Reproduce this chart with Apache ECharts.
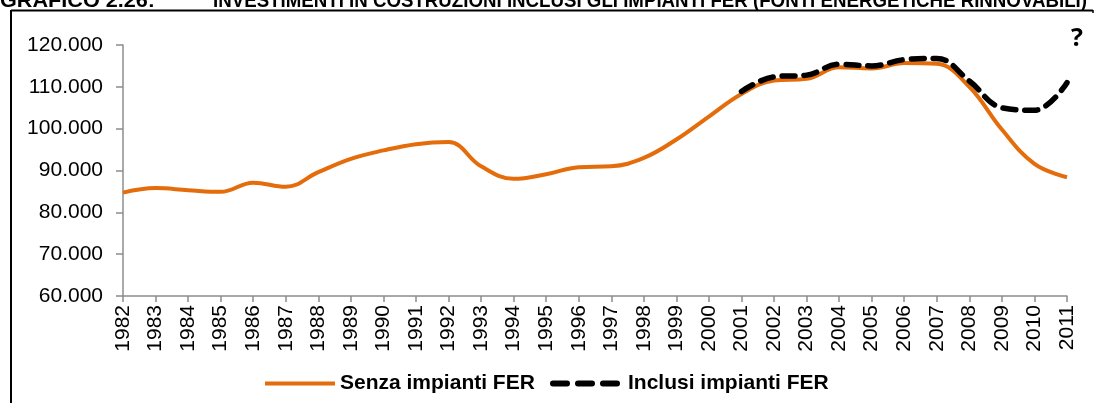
<!DOCTYPE html>
<html>
<head>
<meta charset="utf-8">
<title>Investimenti in costruzioni inclusi gli impianti FER</title>
<script src="https://cdn.jsdelivr.net/npm/echarts@6/dist/echarts.min.js"></script>
<style>
  html, body { margin: 0; padding: 0; background: #ffffff; }
  #chart { width: 1095px; height: 403px; }
</style>
</head>
<body>
<div id="chart"></div>
<script>
// Anni della serie
const years = ['1982','1983','1984','1985','1986','1987','1988','1989','1990','1991',
               '1992','1993','1994','1995','1996','1997','1998','1999','2000','2001',
               '2002','2003','2004','2005','2006','2007','2008','2009','2010','2011'];

// Investimenti in costruzioni senza impianti FER
const senzaFER = [84700, 85800, 85300, 84900, 87100, 86100, 89600, 92800, 94800, 96300,
                  96800, 91000, 88000, 89100, 90800, 91000, 93000, 97400, 102900, 108300,
                  111500, 111900, 114700, 114400, 115700, 115500, 110000, 99800, 91600, 88400];

// Investimenti in costruzioni inclusi gli impianti FER (dal 2001)
const inclusiFER = [null, null, null, null, null, null, null, null, null, null,
                    null, null, null, null, null, null, null, null, null, 108900,
                    112400, 112800, 115400, 115000, 116500, 116800, 111400, 105000, 104400, 111000];

// Asse dei valori
const yMin = 60000, yMax = 120000, yStep = 10000;

const seriesNames = ['Senza impianti FER', 'Inclusi impianti FER'];

// Intestazione del grafico
const titleLead = 'GRAFICO 2.26:';
const titleMain = 'INVESTIMENTI IN COSTRUZIONI INCLUSI GLI IMPIANTI FER (FONTI ENERGETICHE RINNOVABILI)';

const FONT = '"Liberation Sans", Arial, sans-serif';
const TITLE_SIZE = 20;

function fmtThousands(v) {
  return String(Math.round(v)).replace(/\B(?=(\d{3})+(?!\d))/g, '.');
}

// il titolo viene compresso in orizzontale per stare tra x0 e x1
const measureCtx = document.createElement('canvas').getContext('2d');
function titleText(text, x0, x1) {
  measureCtx.font = 'bold ' + TITLE_SIZE + 'px ' + FONT;
  const w = measureCtx.measureText(text).width;
  return {
    type: 'text',
    x: x0, y: 11,
    scaleX: (x1 - x0) / w,
    style: { text: text, fontSize: TITLE_SIZE, fontWeight: 'bold', fontFamily: FONT,
             fill: '#000', align: 'left', verticalAlign: 'bottom' },
    silent: true
  };
}

const chart = echarts.init(document.getElementById('chart'));

const legendText = { fontSize: 21, fontWeight: 'bold', fontFamily: FONT, color: '#000' };

chart.setOption({
  animation: false,
  backgroundColor: '#ffffff',
  grid: { left: 123, right: 28, top: 45, bottom: 107, containLabel: false },
  xAxis: {
    type: 'category',
    data: years,
    boundaryGap: false,
    axisLine: { lineStyle: { color: '#8c8c8c', width: 1.5 } },
    axisTick: { length: 6, interval: 0, lineStyle: { color: '#8c8c8c', width: 1.5 } },
    axisLabel: { interval: 0, rotate: 90, margin: 9, fontSize: 21, fontFamily: FONT, color: '#000' },
    splitLine: { show: false }
  },
  yAxis: {
    type: 'value',
    min: yMin, max: yMax, interval: yStep,
    axisLine: { show: true, lineStyle: { color: '#8c8c8c', width: 1.5 } },
    axisTick: { show: true, length: 7, lineStyle: { color: '#8c8c8c', width: 1.5 } },
    axisLabel: { margin: 20, fontSize: 21, fontFamily: FONT, color: '#000', formatter: fmtThousands },
    splitLine: { show: false }
  },
  legend: [
    {
      data: [seriesNames[0]], left: 263, top: 373, padding: 0,
      itemWidth: 70, itemHeight: 14, itemGap: 0, selectedMode: false, textStyle: legendText,
      itemStyle: { opacity: 0 },
      lineStyle: { width: 4 }
    },
    {
      data: [seriesNames[1]], left: 550, top: 373, padding: 0,
      itemWidth: 70, itemHeight: 14, itemGap: 0, selectedMode: false, textStyle: legendText,
      itemStyle: { opacity: 0 },
      lineStyle: { width: 6, type: [14, 11], cap: 'round' }
    }
  ],
  series: [
    {
      name: seriesNames[0], type: 'line', data: senzaFER, smooth: 0.4,
      symbol: 'none', z: 2,
      lineStyle: { color: '#E46C0A', width: 4 },
      itemStyle: { color: '#E46C0A' }
    },
    {
      name: seriesNames[1], type: 'line', data: inclusiFER, smooth: 0.4,
      symbol: 'none', z: 3, connectNulls: false,
      lineStyle: { color: '#000', width: 5.5, type: [13, 9], cap: 'round' },
      itemStyle: { color: '#000' }
    }
  ],
  graphic: [
    // cornice
    { type: 'line', shape: { x1: 11, y1: 10.5, x2: 1093, y2: 10.5 }, style: { stroke: '#000', lineWidth: 2 }, silent: true },
    { type: 'line', shape: { x1: 11, y1: 10, x2: 11, y2: 403 }, style: { stroke: '#000', lineWidth: 2 }, silent: true },
    { type: 'line', shape: { x1: 1093, y1: 10, x2: 1093, y2: 13 }, style: { stroke: '#000', lineWidth: 1.5 }, silent: true },
    titleText(titleLead, 0, 155),
    titleText(titleMain, 213, 1087),
    {
      type: 'text', x: 1077, y: 39,
      style: { text: '?', fontSize: 25, fontWeight: 'bold', fontFamily: '"Open Sans", sans-serif',
               fill: '#000', align: 'center', verticalAlign: 'middle' },
      silent: true
    }
  ]
});
</script>
</body>
</html>
